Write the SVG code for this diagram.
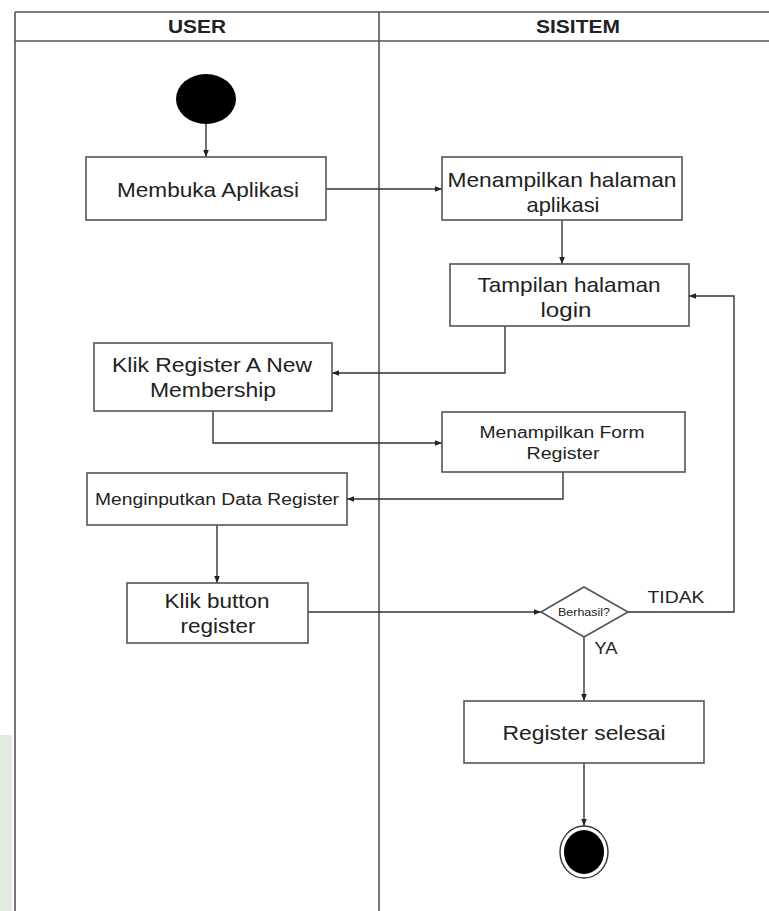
<svg xmlns="http://www.w3.org/2000/svg" width="769" height="911" viewBox="0 0 769 911">
<defs>
<marker id="ah" viewBox="0 0 10 10" refX="10" refY="5" markerWidth="7" markerHeight="7" orient="auto" markerUnits="userSpaceOnUse">
<path d="M0,1 L10,5 L0,9 z" fill="#222"/>
</marker>
<style>
.lane{stroke:#555;stroke-width:1.6;fill:none}
.box{fill:#fff;stroke:#555;stroke-width:1.6}
.t{font-family:"Liberation Sans",Arial,sans-serif;font-size:21px;fill:#222;text-anchor:middle}
.s{font-size:16px}
.h{font-family:"Liberation Sans",Arial,sans-serif;font-size:18px;font-weight:bold;fill:#222;text-anchor:middle}
.c{fill:none;stroke:#333;stroke-width:1.4;marker-end:url(#ah)}
</style>
</defs>
<rect width="769" height="911" fill="#fff"/>
<rect x="0" y="735" width="12" height="176" fill="#e2ebdf"/>
<g id="swimlanes">
<line class="lane" x1="15" y1="12" x2="769" y2="12"/>
<line class="lane" x1="15" y1="41" x2="769" y2="41"/>
<line class="lane" x1="15" y1="12" x2="15" y2="911"/>
<line class="lane" x1="379" y1="12" x2="379" y2="911"/>
<text class="h" x="197" y="33" textLength="58" lengthAdjust="spacingAndGlyphs">USER</text>
<text class="h" x="578" y="33" textLength="84" lengthAdjust="spacingAndGlyphs">SISITEM</text>
</g>
<g id="connectors">
<line class="c" x1="206" y1="124" x2="206" y2="157"/>
<line class="c" x1="326" y1="189" x2="442" y2="189"/>
<line class="c" x1="562" y1="220" x2="562" y2="264"/>
<polyline class="c" points="505,326 505,373 332,373"/>
<polyline class="c" points="213,411 213,443 442,443"/>
<polyline class="c" points="563,472 563,499 347,499"/>
<line class="c" x1="217" y1="525" x2="217" y2="583"/>
<line class="c" x1="308" y1="612" x2="541" y2="612"/>
<polyline class="c" points="628,612 734,612 734,296 689,296"/>
<line class="c" x1="584" y1="637" x2="584" y2="701"/>
<line class="c" x1="584" y1="763" x2="584" y2="826"/>
<text class="t s" x="676" y="603" textLength="57" lengthAdjust="spacingAndGlyphs">TIDAK</text>
<text class="t s" x="606" y="654" textLength="23" lengthAdjust="spacingAndGlyphs">YA</text>
</g>
<g id="start">
<ellipse cx="206" cy="99" rx="30" ry="25" fill="#000"/>
</g>
<g id="membuka">
<rect class="box" x="86" y="157" width="240" height="63"/>
<text class="t" x="208" y="197" textLength="182" lengthAdjust="spacingAndGlyphs">Membuka Aplikasi</text>
</g>
<g id="menampilkan-halaman">
<rect class="box" x="442" y="157" width="240" height="63"/>
<text class="t" x="562" y="187" textLength="229" lengthAdjust="spacingAndGlyphs">Menampilkan halaman</text>
<text class="t" x="563" y="212" textLength="73" lengthAdjust="spacingAndGlyphs">aplikasi</text>
</g>
<g id="tampilan-login">
<rect class="box" x="450" y="264" width="239" height="62"/>
<text class="t" x="569" y="292" textLength="183" lengthAdjust="spacingAndGlyphs">Tampilan halaman</text>
<text class="t" x="566" y="317" textLength="51" lengthAdjust="spacingAndGlyphs">login</text>
</g>
<g id="klik-register">
<rect class="box" x="94" y="343" width="238" height="68"/>
<text class="t" x="212" y="372" textLength="200" lengthAdjust="spacingAndGlyphs">Klik Register A New</text>
<text class="t" x="213" y="397" textLength="126" lengthAdjust="spacingAndGlyphs">Membership</text>
</g>
<g id="form-register">
<rect class="box" x="442" y="412" width="243" height="60"/>
<text class="t s" x="562" y="438" textLength="165" lengthAdjust="spacingAndGlyphs">Menampilkan Form</text>
<text class="t s" x="563" y="459" textLength="73" lengthAdjust="spacingAndGlyphs">Register</text>
</g>
<g id="input-data">
<rect class="box" x="87" y="473" width="260" height="52"/>
<text class="t s" x="217" y="505" textLength="244" lengthAdjust="spacingAndGlyphs">Menginputkan Data Register</text>
</g>
<g id="klik-button">
<rect class="box" x="127" y="583" width="181" height="60"/>
<text class="t" x="217" y="608" textLength="105" lengthAdjust="spacingAndGlyphs">Klik button</text>
<text class="t" x="218" y="633" textLength="75" lengthAdjust="spacingAndGlyphs">register</text>
</g>
<g id="decision">
<polygon class="box" points="541,612 584,587 628,612 584,637"/>
<text class="t" style="font-size:11px" x="584" y="616" textLength="52" lengthAdjust="spacingAndGlyphs">Berhasil?</text>
</g>
<g id="selesai">
<rect class="box" x="464" y="701" width="240" height="62"/>
<text class="t" x="584" y="740" textLength="163" lengthAdjust="spacingAndGlyphs">Register selesai</text>
</g>
<g id="end">
<ellipse cx="584" cy="852" rx="24" ry="26" fill="#fff" stroke="#333" stroke-width="1.4"/>
<ellipse cx="584" cy="852" rx="20" ry="22" fill="#000"/>
</g>
</svg>
